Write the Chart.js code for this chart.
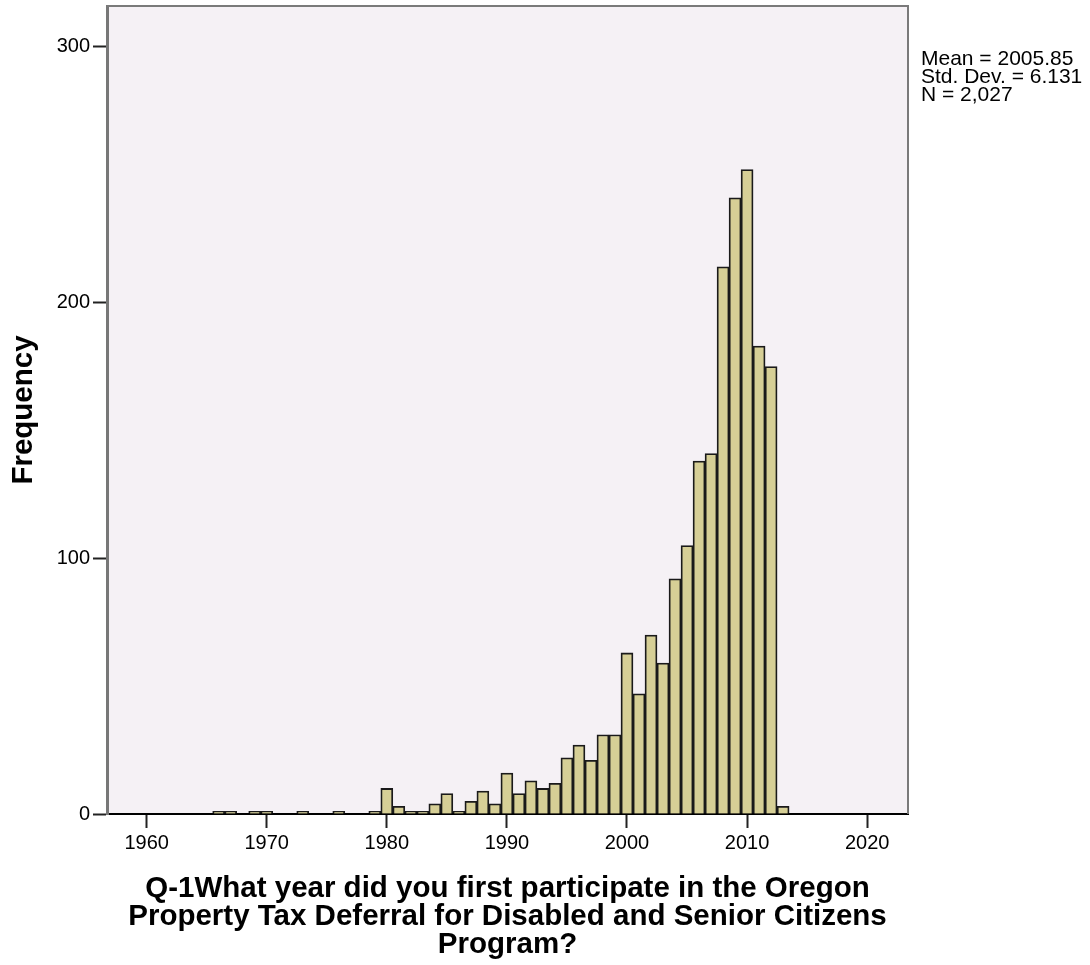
<!DOCTYPE html>
<html>
<head>
<meta charset="utf-8">
<script src="https://cdn.jsdelivr.net/npm/chart.js@4"></script>
<style>
    body { margin: 0; background: #fff; }
    #wrap { width: 1090px; height: 965px; }
</style>
</head>
<body>
<div id="wrap"><canvas id="yearHistChart"></canvas></div>
<script>
// Q-1 first participation year: one bar per year (years with no answers left out)
const years = [1966, 1967, 1969, 1970, 1973, 1976, 1979,
    1980, 1981, 1982, 1983, 1984, 1985, 1986, 1987, 1988, 1989,
    1990, 1991, 1992, 1993, 1994, 1995, 1996, 1997, 1998, 1999,
    2000, 2001, 2002, 2003, 2004, 2005, 2006, 2007, 2008, 2009,
    2010, 2011, 2012, 2013];
const counts = [1, 1, 1, 1, 1, 1, 1,
    10, 3, 1, 1, 4, 8, 1, 5, 9, 4,
    16, 8, 13, 10, 12, 22, 27, 21, 31, 31,
    63, 47, 70, 59, 92, 105, 138, 141, 214, 241,
    252, 183, 175, 3];
const statLines = ['Mean = 2005.85', 'Std. Dev. = 6.131', 'N = 2,027'];
const xTitle = ['Q-1What year did you first participate in the Oregon',
    'Property Tax Deferral for Disabled and Senior Citizens',
    'Program?'];
const yTitle = 'Frequency';

Chart.defaults.font.family = "'Liberation Sans', Arial, sans-serif";
Chart.defaults.color = '#000';

// plot background, frame and the stats box on the right
const plotFrame = {
    id: 'plotFrame',
    beforeDraw(chart) {
        const { ctx, chartArea: a } = chart;
        ctx.save();
        ctx.fillStyle = '#F5F1F5';
        ctx.fillRect(a.left, a.top, a.right - a.left, a.bottom - a.top);
        ctx.restore();
    },
    afterDraw(chart) {
        const { ctx, chartArea: a } = chart;
        ctx.save();
        ctx.strokeStyle = '#7a7a7a';
        ctx.lineWidth = 2;
        ctx.beginPath();
        ctx.moveTo(a.left, a.top);
        ctx.lineTo(a.right, a.top);
        ctx.lineTo(a.right, a.bottom);
        ctx.stroke();

        ctx.fillStyle = '#000';
        ctx.font = "21px 'Liberation Sans', Arial, sans-serif";
        ctx.textAlign = 'left';
        ctx.textBaseline = 'alphabetic';
        statLines.forEach((line, i) => {
            ctx.fillText(line, a.right + 13, 65 + i * 18);
        });
        ctx.restore();
    }
};

const ctx = document.getElementById('yearHistChart').getContext('2d');
new Chart(ctx, {
    type: 'bar',
    data: {
        datasets: [{
            label: yTitle,
            data: years.map((y, i) => ({ x: y, y: counts[i] })),
            backgroundColor: '#D6CF96',
            borderColor: '#1a1a1a',
            borderWidth: 1.8,
            barPercentage: 1,
            categoryPercentage: 1,
        }]
    },
    options: {
        responsive: true,
        maintainAspectRatio: false,
        animation: false,
        layout: { padding: { top: 6, right: 182, left: 0, bottom: 0 } },
        plugins: {
            legend: { display: false },
            tooltip: { enabled: false }
        },
        scales: {
            x: {
                type: 'linear',
                min: 1956.7,
                max: 2023.4,
                offset: false,
                afterFit: scale => {
                    scale.height = 151;
                    scale.paddingLeft = 0;
                    scale.paddingRight = 0;
                },
                grid: {
                    offset: false,
                    drawOnChartArea: false,
                    drawTicks: true,
                    tickLength: 14,
                    tickColor: '#222',
                    tickWidth: 2
                },
                border: { display: true, color: '#000', width: 2 },
                ticks: {
                    stepSize: 10,
                    includeBounds: false,
                    padding: 3,
                    maxRotation: 0,
                    font: { size: 20 },
                    callback: v => String(v)
                },
                title: {
                    display: true,
                    text: xTitle,
                    font: { size: 29.5, weight: 'bold', lineHeight: 0.95 },
                    padding: { top: 0, bottom: 6 }
                }
            },
            y: {
                min: 0,
                max: 316,
                afterFit: scale => {
                    scale.width = 107;
                    scale.paddingTop = 0;
                    scale.paddingBottom = 0;
                },
                grid: {
                    drawOnChartArea: false,
                    drawTicks: true,
                    tickLength: 14,
                    tickColor: '#222',
                    tickWidth: 2
                },
                border: { display: true, color: '#777', width: 3 },
                ticks: {
                    stepSize: 100,
                    includeBounds: false,
                    padding: 3,
                    font: { size: 20 }
                },
                title: {
                    display: true,
                    text: yTitle,
                    font: { size: 29.5, weight: 'bold', lineHeight: 1 },
                    padding: { top: 9, bottom: 0 }
                }
            }
        }
    },
    plugins: [plotFrame]
});
</script>
</body>
</html>
